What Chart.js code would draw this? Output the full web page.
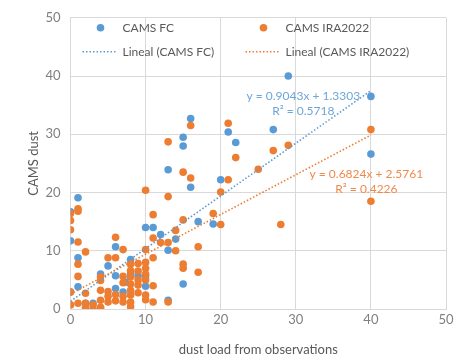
<!DOCTYPE html>
<html lang="es">
<head>
  <meta charset="UTF-8" />
  <title>CAMS dust vs observations</title>
  <script src="https://cdn.jsdelivr.net/npm/chart.js"></script>
  <style>
    html, body { margin: 0; padding: 0; background: #ffffff; }
    .wrap { width: 462px; height: 361px; }
  </style>
</head>
<body>
  <div class="wrap"><canvas id="chart" width="462" height="361"></canvas></div>

  <script>
    // scatter data: [obs, model]
    const camsFC = [
      [0, 16.7], [1, 19.1], [0, 11.7], [1, 8.8], [1, 3.8], [0, 2.9], [2, 1.0], [3, 1.0],
      [4, 0.1], [4, 6.0], [5, 7.4], [6, 10.7], [6, 5.7], [6, 3.5], [7, 2.9], [7.3, 4.6],
      [8, 8.5], [8, 6.1], [9, 5.7], [10, 3.9], [10, 5.7], [10, 14.0], [11, 14.0],
      [12, 12.8], [13, 10.1], [13, 1.5], [13, 23.9], [14, 12.0], [15, 4.3], [15, 28.0],
      [15, 29.5], [16, 32.7], [16, 20.9], [17, 15.0], [19, 14.6], [20, 22.2], [21, 30.4],
      [22, 28.6], [27, 30.8], [29, 40.0], [40, 36.5], [40, 26.6]
    ];
    const camsIRA = [
      [0, 16.4], [0, 15.2], [0, 13.6], [0, 2.9], [0, 0.7], [1, 16.8], [1, 17.2], [1, 11.5],
      [1, 7.7], [1, 5.6], [1, 1.0], [2, 9.8], [2, 2.7], [2, 1.0], [2, 0.2], [3, 0.7], [3, 0.0],
      [4, 5.5], [4, 4.9], [4, 3.2], [4, 1.5], [4, 0.3], [5, 8.8], [5, 3.0], [5, 2.2], [5, 1.2],
      [6, 12.3], [6, 8.8], [6, 2.5], [6, 1.4], [7, 10.2], [7, 5.6], [7, 4.5], [7, 2.2], [7, 1.2],
      [8, 7.7], [8, 6.6], [8, 5.5], [8, 4.3], [8, 3.2], [8, 2.4], [8, 1.2], [8, 0.4],
      [9, 7.8], [9, 6.5], [9, 5.0], [9, 4.1], [9, 2.8], [10, 20.4], [10, 10.2], [10, 8.0],
      [10, 7.0], [10, 6.0], [10, 5.0], [10, 2.4], [10, 1.6], [11, 16.2], [11, 12.2], [11, 8.8],
      [11, 4.0], [11, 1.2], [12, 11.4], [13, 28.7], [13, 19.3], [13, 11.4], [13, 1.2],
      [14, 13.5], [14, 10.0], [15, 23.5], [15, 15.3], [15, 7.7], [15, 7.0], [16, 31.5],
      [16, 22.5], [17, 10.7], [17, 6.3], [19, 16.4], [20, 20.1], [20, 14.5], [21, 31.9],
      [21, 22.2], [22, 26.0], [25, 24.0], [27, 27.2], [28, 14.5], [29, 28.1], [40, 30.8], [40, 18.5]
    ];
    // trendline end points as shown on the chart
    const trendFC = [[0, 1.33], [40, 37.5]];
    const trendIRA = [[0, 2.58], [40, 29.87]];

    const seriesNames = ['CAMS FC', 'CAMS IRA2022', 'Lineal (CAMS FC)', 'Lineal (CAMS IRA2022)'];
    const eqFC = ['y = 0.9043x + 1.3303', 'R\u00b2 = 0.5718'];
    const eqIRA = ['y = 0.6824x + 2.5761', 'R\u00b2 = 0.4226'];
    // where the equation labels sit, in data units [x, y] per line
    const eqFCAt = [[31.0, 36.5], [31.0, 34.0]];
    const eqIRAAt = [[39.4, 23.1], [39.4, 20.5]];

    const xTicks = [0, 10, 20, 30, 40, 50];
    const yTicks = [0, 10, 20, 30, 40, 50];

    const BLUE = '#5b9bd5';
    const ORANGE = '#ed7d31';
    const GRID = '#d9d9d9';
    const TEXT = '#595959';
    const TICK = '#7f7f7f';
    const FONT = 'Lato, "Open Sans", sans-serif';

    const toPts = arr => arr.map(p => ({ x: p[0], y: p[1] }));

    // legend + equation labels drawn inside the plot area, Excel style
    const overlay = {
      id: 'overlay',
      afterDraw(chart) {
        const ctx = chart.ctx;
        const a = chart.chartArea;
        const xs = chart.scales.x, ys = chart.scales.y;
        ctx.save();
        ctx.font = '12px ' + FONT;
        ctx.textBaseline = 'middle';
        ctx.textAlign = 'left';

        const cols = [a.left + 30, a.left + 193];
        const rows = [a.top + 10, a.top + 34];
        const colors = [BLUE, ORANGE];
        for (let i = 0; i < 2; i++) {
          // marker
          ctx.fillStyle = colors[i];
          ctx.beginPath();
          ctx.arc(cols[i], rows[0], 3.8, 0, Math.PI * 2);
          ctx.fill();
          ctx.fillStyle = TEXT;
          ctx.fillText(seriesNames[i], cols[i] + 22, rows[0]);
          // dotted line sample
          ctx.strokeStyle = colors[i];
          ctx.lineWidth = 1.5;
          ctx.setLineDash([1.5, 2]);
          ctx.beginPath();
          ctx.moveTo(cols[i] - 18, rows[1]);
          ctx.lineTo(cols[i] + 15, rows[1]);
          ctx.stroke();
          ctx.setLineDash([]);
          ctx.fillStyle = TEXT;
          ctx.fillText(seriesNames[i + 2], cols[i] + 22, rows[1]);
        }

        ctx.textAlign = 'center';
        ctx.fillStyle = '#6ea6da';
        eqFC.forEach((t, i) => ctx.fillText(t, xs.getPixelForValue(eqFCAt[i][0]), ys.getPixelForValue(eqFCAt[i][1])));
        ctx.fillStyle = '#f08a4b';
        eqIRA.forEach((t, i) => ctx.fillText(t, xs.getPixelForValue(eqIRAAt[i][0]), ys.getPixelForValue(eqIRAAt[i][1])));
        ctx.restore();
      }
    };

    const ctx = document.getElementById('chart').getContext('2d');
    new Chart(ctx, {
      type: 'scatter',
      data: {
        datasets: [
          {
            label: seriesNames[0],
            data: toPts(camsFC),
            backgroundColor: BLUE,
            borderWidth: 0,
            pointRadius: 3.8,
            order: 3
          },
          {
            label: seriesNames[1],
            data: toPts(camsIRA),
            backgroundColor: ORANGE,
            borderWidth: 0,
            pointRadius: 3.8,
            order: 2
          },
          {
            type: 'line',
            label: seriesNames[2],
            data: toPts(trendFC),
            borderColor: BLUE,
            borderWidth: 1.6,
            borderDash: [1.5, 2],
            pointRadius: 0,
            fill: false,
            order: 1
          },
          {
            type: 'line',
            label: seriesNames[3],
            data: toPts(trendIRA),
            borderColor: ORANGE,
            borderWidth: 1.6,
            borderDash: [1.5, 2],
            pointRadius: 0,
            fill: false,
            order: 0
          }
        ]
      },
      options: {
        responsive: false,
        animation: false,
        layout: { padding: { left: 0, right: 16, top: 13, bottom: 0 } },
        plugins: {
          legend: { display: false },
          tooltip: { enabled: false }
        },
        scales: {
          x: {
            type: 'linear',
            min: 0,
            max: 50,
            afterBuildTicks: s => { s.ticks = xTicks.map(v => ({ value: v })); },
            afterFit: s => { s.height = 52; },
            grid: { color: GRID, drawTicks: false },
            border: { color: GRID },
            ticks: { color: TICK, padding: 3, font: { family: FONT, size: 13 } },
            title: {
              display: true,
              text: 'dust load from observations',
              color: TEXT,
              font: { family: FONT, size: 13 },
              padding: { top: 0, bottom: 3 }
            }
          },
          y: {
            type: 'linear',
            min: 0,
            max: 50,
            afterBuildTicks: s => { s.ticks = yTicks.map(v => ({ value: v })); },
            afterFit: s => { s.width = 70.5; },
            grid: { color: GRID, drawTicks: false },
            border: { color: GRID },
            ticks: { color: TICK, padding: 10, font: { family: FONT, size: 13 } },
            title: {
              display: true,
              text: 'CAMS dust',
              color: TEXT,
              font: { family: FONT, size: 13 },
              padding: { top: 26, bottom: 0 }
            }
          }
        }
      },
      plugins: [overlay]
    });
  </script>
</body>
</html>
